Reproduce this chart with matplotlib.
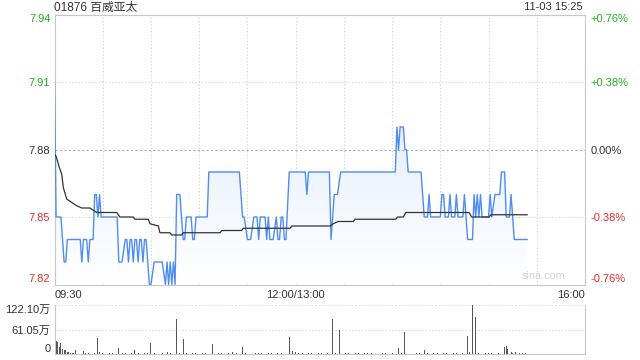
import matplotlib
matplotlib.use('Agg')
import matplotlib.pyplot as plt
from matplotlib.patches import Polygon
import numpy as np

plt.rcParams['font.family'] = ['Liberation Sans', 'Noto Sans CJK SC', 'DejaVu Sans']

title = '01876 百威亚太'
stamp = '11-03 15:25'
prev_close = 7.88
price_ticks = [7.82, 7.85, 7.88, 7.91, 7.94]
price_labels = ['7.82', '7.85', '7.88', '7.91', '7.94']
pct_labels = ['-0.76%', '-0.38%', '0.00%', '+0.38%', '+0.76%']
time_ticks = [0, 150, 330]
time_labels = ['09:30', '12:00/13:00', '16:00']
vol_ticks = [0, 61.05, 122.10]
vol_labels = ['0', '61.05万', '122.10万']

# minutes from 09:30 (lunch break removed), price at each turning point
price_min = [0, 1, 4, 6, 7, 8, 16, 17, 18, 20, 21, 22, 24, 25, 26, 27, 28, 29,
             39, 40, 42, 44, 45, 46, 47, 48, 49, 50, 51, 52, 53, 54, 55, 56, 57,
             59, 60, 62, 67, 69, 70, 71, 72, 73, 74, 75, 76, 78, 80, 81, 82, 85,
             86, 87, 88, 95, 96, 115, 117, 118, 120, 122, 124, 126, 127, 128, 131,
             132, 133, 134, 136, 138, 139, 140, 141, 142, 143, 144, 146, 156, 157,
             158, 171, 172, 174, 176, 178, 212, 213, 214, 215, 217, 218, 219, 220,
             228, 230, 232, 233, 234, 240, 241, 242, 243, 245, 246, 247, 249, 250,
             251, 254, 255, 257, 260, 261, 262, 263, 264, 265, 266, 270, 271, 272,
             274, 277, 278, 280, 281, 283, 284, 285, 286, 294]
price_val = [7.91, 7.85, 7.85, 7.83, 7.83, 7.84, 7.84, 7.83, 7.84, 7.84, 7.83, 7.84,
             7.84, 7.86, 7.86, 7.85, 7.86, 7.85,
             7.85, 7.83, 7.83, 7.84, 7.84, 7.83, 7.84, 7.84, 7.83, 7.84, 7.84, 7.83,
             7.84, 7.84, 7.83, 7.84, 7.84,
             7.82, 7.82, 7.83, 7.83, 7.82, 7.83, 7.82, 7.83, 7.82, 7.83, 7.82, 7.86,
             7.86, 7.84, 7.84, 7.85, 7.85,
             7.84, 7.84, 7.85, 7.85, 7.87, 7.87, 7.85, 7.85, 7.84, 7.84, 7.85, 7.85,
             7.84, 7.85, 7.85,
             7.84, 7.85, 7.84, 7.84, 7.85, 7.84, 7.84, 7.85, 7.85, 7.84, 7.84, 7.87,
             7.87, 7.86,
             7.87, 7.87, 7.84, 7.86, 7.86, 7.87, 7.87, 7.89, 7.88, 7.89, 7.89, 7.88,
             7.88, 7.87,
             7.87, 7.85, 7.85, 7.86, 7.85, 7.85, 7.86, 7.86, 7.85, 7.85, 7.86, 7.85,
             7.85, 7.86,
             7.85, 7.85, 7.86, 7.84, 7.84, 7.86, 7.85, 7.86, 7.85, 7.86, 7.85, 7.85,
             7.86, 7.85,
             7.86, 7.86, 7.87, 7.87, 7.85, 7.85, 7.86, 7.85, 7.84, 7.84]

avg_min = [0, 1, 3, 4.5, 5.5, 7.6, 9.6, 13.8, 16.9, 22.1, 24.1, 26.3, 38.7, 40.7,
           49, 50, 58.3, 59.4, 64.6, 65.6, 71.8, 72.9, 79.1, 80.1, 103, 104, 116.4,
           117.4, 146.5, 147.6, 171.4, 173.4, 176.5, 185.9, 186.9, 212.2, 213.5,
           217, 218.5, 257.8, 259.5, 270.5, 271.3, 294]
avg_val = [7.878, 7.877, 7.872, 7.869, 7.863, 7.858, 7.857, 7.855, 7.854, 7.854,
           7.853, 7.852, 7.852, 7.850, 7.850, 7.849, 7.849, 7.847, 7.846, 7.843,
           7.843, 7.842, 7.842, 7.843, 7.843, 7.844, 7.844, 7.845, 7.845, 7.846,
           7.846, 7.847, 7.848, 7.848, 7.849, 7.849, 7.850, 7.850, 7.852, 7.852,
           7.850, 7.850, 7.851, 7.851]

# volume in 万 shares
vol_min = [1, 2, 3, 4, 5, 6, 7, 8, 9, 10, 13, 18, 27, 28, 40, 50, 60, 65, 70, 76,
           80, 98, 111, 117, 146, 148, 150, 173, 177, 200, 214, 218, 230, 257, 258,
           260, 262, 279, 280, 281, 282, 284, 285, 287, 289, 291, 293]
vol_val = [32, 30, 18, 27, 12, 10, 9, 6, 4, 3, 10, 7, 41, 5, 16, 10, 28, 76, 5, 88,
           37, 24, 6, 18, 43, 7, 4, 87, 60, 12, 14, 55, 10, 45, 5,
           122.10, 93, 20, 17, 20, 12, 4, 3, 4, 3, 2, 3]
small_min = [11, 12, 14, 15, 19, 21, 23, 25, 30, 32, 34, 36, 38, 42, 44, 46, 48, 52,
             54, 56, 58, 62, 64, 67, 72, 74, 78, 82, 84, 86, 88, 90, 92, 94, 100, 102,
             104, 106, 108, 113, 115, 119, 121, 123, 125, 127, 129, 131, 133, 135, 137,
             139, 141, 143, 152, 154, 156, 158, 160, 162, 164, 166, 168, 170, 175, 179,
             181, 183, 185, 187, 189, 191, 193, 195, 197, 202, 204, 206, 208, 210, 216,
             221, 223, 225, 227, 232, 234, 236, 238, 240, 242, 244, 246, 248, 250, 252,
             254, 264, 266, 268, 270, 272, 274, 276]
small_val = [2, 3, 2, 1, 2, 2, 1, 3, 2, 1, 2, 2, 1, 3, 2, 1, 2, 2,
             1, 2, 3, 2, 1, 2, 2, 1, 2, 2, 1, 2, 3, 1, 2, 2, 1, 2,
             2, 1, 3, 2, 1, 2, 2, 1, 3, 2, 2, 1, 2, 3, 1,
             2, 2, 1, 2, 2, 1, 2, 3, 1, 2, 2, 1, 2, 2, 1,
             2, 3, 1, 2, 2, 1, 2, 2, 3, 1, 2, 2, 1, 2, 2,
             1, 2, 3, 2, 2, 1, 2, 2, 1, 3, 2, 1, 2, 2, 1,
             2, 2, 1, 2, 3, 2, 1, 2]

green = '#1fae1f'
red = '#ee2b2b'
dark = '#333333'
grid_c = '#cfcfcf'
spine_c = '#c8c8c8'

fig = plt.figure(figsize=(6.4, 3.6), dpi=100)
ax = fig.add_axes([54.5 / 640, 1 - 284.5 / 360, 530.5 / 640, 270 / 360])
vax = fig.add_axes([54.5 / 640, 1 - 354 / 360, 530.5 / 640, 49 / 360])

# gradient fill under price line
verts = list(zip(price_min, price_val)) + [(price_min[-1], 7.82), (price_min[0], 7.82)]
poly = Polygon(verts, closed=True, facecolor='none', edgecolor='none')
ax.add_patch(poly)
top_c = np.array([0.84, 0.895, 0.98])
bot_c = np.array([1.0, 1.0, 1.0])
g = np.linspace(1, 0, 256)[:, None, None]
img = bot_c + (top_c - bot_c) * g
im = ax.imshow(img, extent=[0, 330, 7.82, 7.94], origin='upper', aspect='auto', zorder=1)
im.set_clip_path(poly)

ax.plot(price_min, price_val, color='#4f8ef0', lw=1.0, zorder=3)
ax.plot(avg_min, avg_val, color=dark, lw=0.9, zorder=4)

ax.set_xlim(0, 330)
ax.set_ylim(7.82, 7.94)
for v in np.arange(30, 330, 30):
    ax.axvline(v, color=grid_c, ls=(0, (1, 2)), lw=0.8, zorder=0)
for v in [7.85, 7.91]:
    ax.axhline(v, color=grid_c, ls=(0, (1, 2)), lw=0.8, zorder=0)
ax.axhline(prev_close, color='#aaaaaa', ls=(0, (2, 2)), lw=0.8, zorder=2)

for s in ax.spines.values():
    s.set_color(spine_c)
    s.set_linewidth(0.8)

ax.set_yticks(price_ticks)
ax.set_yticklabels(price_labels)
ax.tick_params(axis='y', length=0, pad=3, labelsize=8)
ax.set_xticks(time_ticks)
ax.set_xticklabels(time_labels)
ax.tick_params(axis='x', length=0, pad=4, labelsize=8, labelcolor=dark)
xl = ax.get_xticklabels()
xl[0].set_ha('left')
xl[-1].set_ha('right')

yl = ax.get_yticklabels()
for lab, v in zip(yl, price_ticks):
    lab.set_color(green if v > prev_close else (red if v < prev_close else dark))
yl[0].set_va('bottom')
yl[-1].set_va('top')

rax = ax.twinx()
rax.set_ylim(7.82, 7.94)
rax.set_yticks(price_ticks)
rax.set_yticklabels(pct_labels)
rax.tick_params(axis='y', length=0, pad=4, labelsize=8)
for s in rax.spines.values():
    s.set_visible(False)
rl = rax.get_yticklabels()
for lab, v in zip(rl, price_ticks):
    lab.set_color(green if v > prev_close else (red if v < prev_close else dark))
rl[0].set_va('bottom')
rl[-1].set_va('top')

ax.text(318, 7.8215, 'sina.com', ha='right', va='bottom', fontsize=7.8,
        color='#d2d2d2', zorder=5)

fig.text(54.5 / 640, 1 - 7.5 / 360, title, ha='left', va='center', fontsize=8.5, color=dark)
fig.text(583 / 640, 1 - 7.5 / 360, stamp, ha='right', va='center', fontsize=8, color=dark)

# volume panel
vax.bar(small_min, small_val, width=0.6, color='#555555', zorder=2)
vax.bar(vol_min, vol_val, width=0.6, color='#555555', zorder=2)
vax.set_xlim(0, 330)
vax.set_ylim(0, 122.10)
vax.axhline(61.05, color=grid_c, ls=(0, (1, 2)), lw=0.8, zorder=0)
vax.axhline(122.10, color=grid_c, ls=(0, (1, 2)), lw=0.8, zorder=0)
for side, s in vax.spines.items():
    s.set_color(spine_c)
    s.set_linewidth(0.8)
vax.spines['top'].set_visible(False)
vax.set_xticks([])
vax.set_yticks(vol_ticks)
vax.set_yticklabels(vol_labels)
vax.tick_params(axis='y', length=0, pad=3, labelsize=8, labelcolor=dark)
vl = vax.get_yticklabels()
vl[0].set_va('bottom')
vl[-1].set_va('top')

fig.savefig('out.png', dpi=100)
